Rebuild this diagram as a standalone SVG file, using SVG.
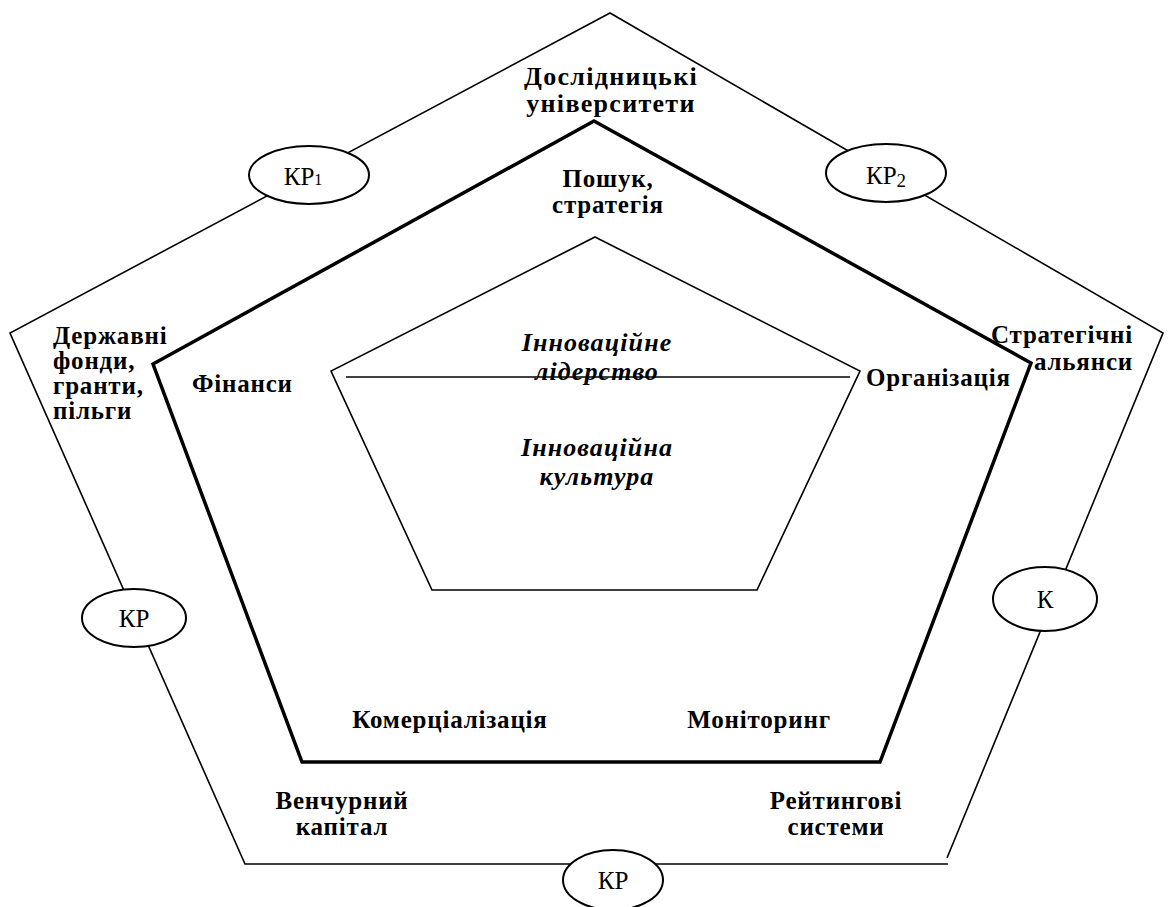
<svg xmlns="http://www.w3.org/2000/svg" width="1168" height="907" viewBox="0 0 1168 907">
<style>
.thin{fill:none;stroke:#000;stroke-width:1.6}
.thick{fill:none;stroke:#000;stroke-width:3.5}
.el{fill:#fff;stroke:#000;stroke-width:2}
.b{font-family:"Liberation Serif","Times New Roman",serif;font-weight:bold;font-size:25px;letter-spacing:0.8px;fill:#000}
.t{font-family:"Liberation Serif","Times New Roman",serif;font-weight:bold;font-size:26px;letter-spacing:1.3px;fill:#000}
.i{font-family:"Liberation Serif","Times New Roman",serif;font-weight:bold;font-style:italic;font-size:26px;letter-spacing:1.1px;fill:#000}
.k{font-family:"Liberation Serif","Times New Roman",serif;font-size:25px;fill:#000}
.c{text-anchor:middle}
</style>
<rect width="1168" height="907" fill="#fff"/>
<g id="connectors">
<polyline class="thin" points="947,858 1163,333 610,13 10,333 245,864 948,864"/>
<polygon class="thick" points="594,121 1031,363 880,762 302,762 153,364"/>
<polygon class="thin" points="595,237 860,371 757,590 432,590 331,371"/>
<line class="thin" x1="346" y1="377" x2="850" y2="377"/>
</g>
<g id="outer-top"><text class="t c" x="611" y="85">Дослідницькі</text><text class="t c" x="611" y="112">університети</text></g>
<g id="kp1"><ellipse class="el" cx="309" cy="175" rx="60" ry="29"/><text class="k c" x="303" y="185">КР<tspan font-size="16">1</tspan></text></g>
<g id="kp2"><ellipse class="el" cx="886" cy="173" rx="60" ry="29"/><text class="k c" x="886" y="184">КР<tspan font-size="19" dy="3">2</tspan></text></g>
<g id="kp3"><ellipse class="el" cx="134" cy="618" rx="52" ry="29"/><text class="k c" x="134" y="627">КР</text></g>
<g id="k4"><ellipse class="el" cx="1045" cy="599" rx="52" ry="32"/><text class="k c" x="1045" y="608">К</text></g>
<g id="kp5"><ellipse class="el" cx="613" cy="880" rx="50" ry="30"/><text class="k c" x="613" y="889">КР</text></g>
<g id="search"><text class="b c" x="608" y="187">Пошук,</text><text class="b c" x="608" y="213">стратегія</text></g>
<g id="funds"><text class="b" x="53" y="344">Державні</text><text class="b" x="53" y="369">фонди,</text><text class="b" x="53" y="394">гранти,</text><text class="b" x="53" y="419">пільги</text></g>
<g id="finance"><text class="b" x="192" y="392">Фінанси</text></g>
<g id="org"><text class="b" x="866" y="386">Організація</text></g>
<g id="alliances"><text class="b" x="1133" y="343" text-anchor="end">Стратегічні</text><text class="b" x="1133" y="370" text-anchor="end">альянси</text></g>
<g id="leadership"><text class="i c" x="597" y="351">Інноваційне</text><text class="i c" x="597" y="380">лідерство</text></g>
<g id="culture"><text class="i c" x="597" y="456">Інноваційна</text><text class="i c" x="597" y="485">культура</text></g>
<g id="comm"><text class="b c" x="450" y="728">Комерціалізація</text></g>
<g id="monitor"><text class="b c" x="759" y="728">Моніторинг</text></g>
<g id="venture"><text class="b c" x="342" y="809">Венчурний</text><text class="b c" x="342" y="835">капітал</text></g>
<g id="rating"><text class="b c" x="836" y="809">Рейтингові</text><text class="b c" x="836" y="835">системи</text></g>
</svg>
